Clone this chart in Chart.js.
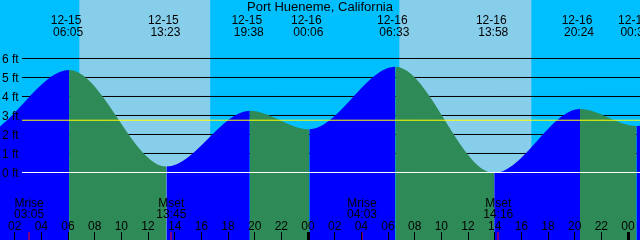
<!DOCTYPE html>
<html>
<head>
<meta charset="utf-8">
<script src="https://cdn.jsdelivr.net/npm/chart.js@4/dist/chart.umd.min.js"></script>
<style>
  html, body { margin: 0; padding: 0; background: #00bfff; }
  canvas { display: block; }
</style>
</head>
<body>
<canvas id="chart" width="640" height="240"></canvas>
<script>
const TITLE = "Port Hueneme, California";

// tide extremes (first two and last one lie outside the window, estimated)
const TIDE_TIMES = ['12-14 17:50', '12-14 23:20', '12-15 06:05', '12-15 13:23', '12-15 19:38', '12-16 00:06',
  '12-16 06:33', '12-16 13:58', '12-16 20:24', '12-17 00:38', '12-17 07:00'];
const TIDE_HEIGHTS = [3.2, 1.95, 5.39, 0.31, 3.25, 2.27, 5.56, -0.03, 3.34, 2.45, 5.7];

const SUNRISE = ['12-15 06:51', '12-16 06:51'];
const SUNSET = ['12-15 16:40', '12-16 16:45'];

const MOON_EVENTS = ['Mrise', 'Mset', 'Mrise', 'Mset'];
const MOON_TIMES = ['12-15 03:05', '12-15 13:45', '12-16 04:03', '12-16 14:16'];

const FT_TICKS = [0, 1, 2, 3, 4, 5, 6];
const MSL = 2.75;

// hours counted from 12-15 00:00
const HOUR_TICKS = [2, 4, 6, 8, 10, 12, 14, 16, 18, 20, 22, 24, 26, 28, 30, 32, 34, 36, 38, 40, 42, 44, 46, 48];
const HOUR_LABELS = ['02', '04', '06', '08', '10', '12', '14', '16', '18', '20', '22', '00',
  '02', '04', '06', '08', '10', '12', '14', '16', '18', '20', '22', '00'];

const X_MIN = 0.9;
const X_MAX = 48.9;
const Y_MIN = -3.553;
const Y_MAX = 9.079;

const NIGHT = '#00bfff';
const DAY = '#87ceeb';
const RISE = '#0000ff';
const FALL = '#2e8b57';
const FONT = '12px "Liberation Sans", Arial, sans-serif';

function toHours(s) {
  const [md, hm] = s.split(' ');
  const day = +md.split('-')[1];
  const [h, m] = hm.split(':').map(Number);
  return (day - 15) * 24 + h + m / 60;
}

const backgroundPlugin = {
  id: 'tideBackground',
  beforeDatasetsDraw(chart) {
    const ctx = chart.ctx;
    const x = chart.scales.x;
    const y = chart.scales.y;
    const {top, bottom, left, right} = chart.chartArea;
    ctx.save();
    ctx.fillStyle = NIGHT;
    ctx.fillRect(left, top, right - left, bottom - top);
    ctx.fillStyle = DAY;
    SUNRISE.forEach((s, i) => {
      const x0 = x.getPixelForValue(toHours(s));
      const x1 = x.getPixelForValue(toHours(SUNSET[i]));
      ctx.fillRect(x0, top, x1 - x0, bottom - top);
    });
    // grid
    ctx.strokeStyle = '#000';
    ctx.lineWidth = 1;
    FT_TICKS.slice(1).forEach(v => {
      const py = y.getPixelForValue(v);
      ctx.beginPath();
      ctx.moveTo(22, py);
      ctx.lineTo(right, py);
      ctx.stroke();
    });
    ctx.restore();
  },
  afterDatasetsDraw(chart) {
    const ctx = chart.ctx;
    const x = chart.scales.x;
    const y = chart.scales.y;
    const right = chart.chartArea.right;
    ctx.save();

    // datum and mean sea level
    [[0, '#ffffff'], [MSL, '#ffff00']].forEach(([v, c]) => {
      const py = y.getPixelForValue(v);
      ctx.strokeStyle = c;
      ctx.lineWidth = 1;
      ctx.beginPath();
      ctx.moveTo(22, py);
      ctx.lineTo(right, py);
      ctx.stroke();
    });

    ctx.fillStyle = '#000';
    ctx.font = FONT;
    ctx.textAlign = 'left';
    ctx.textBaseline = 'alphabetic';
    FT_TICKS.forEach(v => {
      ctx.fillText(v + ' ft', 2, y.getPixelForValue(v) + 4.5);
    });

    // title
    ctx.textAlign = 'center';
    ctx.font = '13px "Liberation Sans", Arial, sans-serif';
    ctx.fillText(TITLE, 320, 11);

    // extreme labels
    ctx.font = FONT;
    TIDE_TIMES.forEach(t => {
      const h = toHours(t);
      if (h < X_MIN || h > X_MAX) return;
      const px = x.getPixelForValue(h);
      const [date, time] = t.split(' ');
      ctx.fillText(date, px - 3, 24);
      ctx.fillText(time, px - 1, 36);
    });

    // moon events
    MOON_TIMES.forEach((t, i) => {
      const px = x.getPixelForValue(toHours(t));
      ctx.fillStyle = '#000';
      ctx.fillText(MOON_EVENTS[i], px, 206.5);
      ctx.fillText(t.split(' ')[1], px, 218);
      ctx.fillStyle = '#ff0000';
      ctx.fillRect(Math.round(px) - 0.5, 232, 1, 8);
    });

    // hour axis
    ctx.fillStyle = '#000';
    HOUR_TICKS.forEach((h, i) => {
      const px = x.getPixelForValue(h);
      ctx.fillText(HOUR_LABELS[i], px, 230);
      const w = HOUR_LABELS[i] === '00' ? 3 : 1;
      ctx.fillRect(Math.round(px - w / 2), 232, w, 8);
    });
    ctx.restore();
  }
};

function displayChart() {
  const ctx = document.getElementById('chart');
  const points = TIDE_TIMES.map((t, i) => ({x: toHours(t), y: TIDE_HEIGHTS[i]}));

  new Chart(ctx, {
    type: 'line',
    data: {
      datasets: [{
        data: points,
        fill: 'start',
        cubicInterpolationMode: 'monotone',
        pointRadius: 0,
        borderWidth: 0,
        borderColor: 'rgba(0,0,0,0)',
        backgroundColor: RISE,
        segment: {
          backgroundColor: c => c.p1.parsed.y > c.p0.parsed.y ? RISE : FALL
        }
      }]
    },
    options: {
      responsive: false,
      animation: false,
      devicePixelRatio: 1,
      layout: { padding: 0 },
      plugins: {
        legend: { display: false },
        tooltip: { enabled: false },
        title: { display: false }
      },
      scales: {
        x: { type: 'linear', min: X_MIN, max: X_MAX, display: false },
        y: { type: 'linear', min: Y_MIN, max: Y_MAX, display: false }
      }
    },
    plugins: [backgroundPlugin]
  });
}

displayChart();
</script>
</body>
</html>
